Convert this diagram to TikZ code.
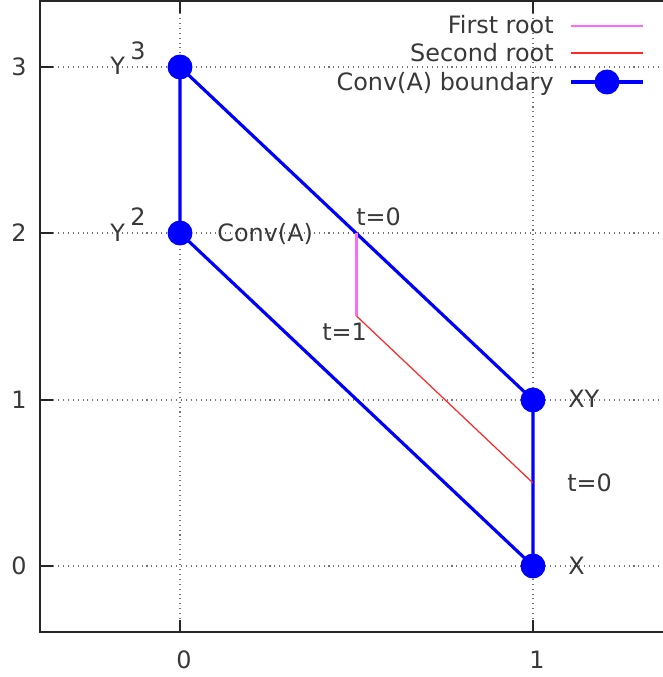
\documentclass[tikz,border=0pt]{standalone}
\usepackage{fontspec}
\setmainfont{DejaVu Sans}
\definecolor{rootmag}{RGB}{255,105,255}
\definecolor{rootred}{RGB}{255,40,40}
\begin{document}
\begin{tikzpicture}[x=0.02cm,y=-0.02cm,
  every node/.style={text=black!78, inner sep=0pt, font=\fontsize{13.6}{16}\selectfont},
  gridline/.style={black!55, line width=0.6pt, dash pattern=on 0.6pt off 2.2pt},
  frameline/.style={black!85, line width=0.9pt},
  bnd/.style={blue, line width=1.8pt},
  vertex/.style={circle, fill=blue, draw=none, minimum size=14.2pt, inner sep=0pt},
  firstroot/.style={rootmag, line width=1.5pt},
  secondroot/.style={rootred, line width=0.7pt},
  lbl/.style={anchor=base west},
  ticklbl/.style={anchor=base}]
\useasboundingbox (0,0) rectangle (663,677);
% grid
\foreach \yy in {67,233,400,566} { \draw[gridline] (53,\yy) -- (663,\yy); }
\foreach \xx in {180,533} { \draw[gridline] (\xx,13) -- (\xx,620); }
% frame
\draw[frameline] (663,1) -- (40,1) -- (40,632) -- (663,632);
\foreach \yy in {67,233,400,566} { \draw[frameline] (40,\yy) -- (53,\yy); }
\foreach \xx in {180,533} { \draw[frameline] (\xx,632) -- (\xx,620); \draw[frameline] (\xx,1) -- (\xx,13); }
% tick labels
\node[ticklbl] (ty3) at (19,75) {3};
\node[ticklbl] (ty2) at (19,241) {2};
\node[ticklbl] (ty1) at (19,408) {1};
\node[ticklbl] (ty0) at (19,574) {0};
\node[ticklbl] (tx0) at (184,668) {0};
\node[ticklbl] (tx1) at (537,668) {1};
% vertices
\node[vertex] (Y3) at (180,67) {};
\node[vertex] (Y2) at (180,233) {};
\node[vertex] (XY) at (533,400) {};
\node[vertex] (X) at (533,566) {};
\draw[bnd] (Y3.center) -- (Y2.center) -- (X.center) -- (XY.center) -- cycle;
% roots
\coordinate (r0) at (356.5,233);
\coordinate (r1) at (356.5,316);
\coordinate (r2) at (533,483);
\draw[firstroot] (r0) -- (r1);
\draw[secondroot] (r1) -- (r2);
% labels
\node[lbl] (lY3) at (110,74) {Y};
\node[lbl] (sY3) at (130,59) {3};
\node[lbl] (lY2) at (110,241) {Y};
\node[lbl] (sY2) at (130,225) {2};
\node[lbl] (lconv) at (217,241) {Conv(A)};
\node[lbl] (lt0a) at (356,225) {t=0};
\node[lbl] (lt1) at (322,340) {t=1};
\node[lbl] (lXY) at (568,407) {XY};
\node[lbl] (lt0b) at (567,491) {t=0};
\node[lbl] (lX) at (568,574) {X};
% legend
\node[anchor=base east] (leg1) at (554,33) {First root};
\node[anchor=base east] (leg2) at (554,61) {Second root};
\node[anchor=base east] (leg3) at (554,90) {Conv(A) boundary};
\coordinate (l1a) at (571,26); \coordinate (l1b) at (643,26);
\coordinate (l2a) at (571,53); \coordinate (l2b) at (643,53);
\coordinate (l3a) at (571,82); \coordinate (l3b) at (643,82);
\draw[firstroot] (l1a) -- (l1b);
\draw[secondroot] (l2a) -- (l2b);
\draw[bnd] (l3a) -- (l3b);
\node[vertex] (lm) at (607,82) {};
\end{tikzpicture}
\end{document}
